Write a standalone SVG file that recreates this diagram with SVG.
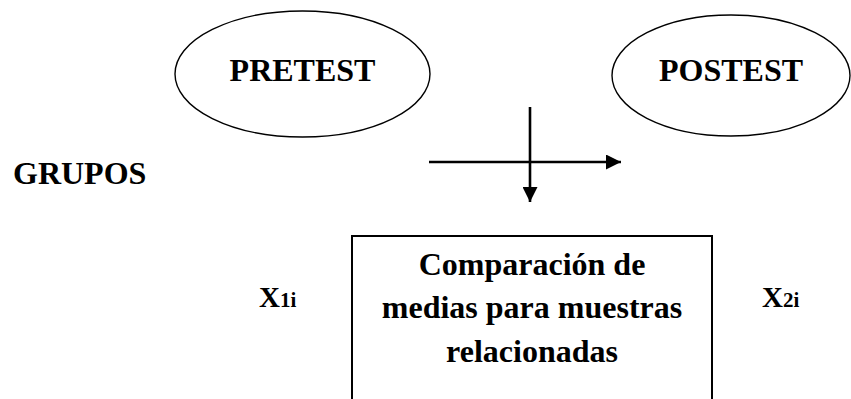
<svg xmlns="http://www.w3.org/2000/svg" width="851" height="399" viewBox="0 0 851 399">
<style>
text{font-family:"Liberation Serif","Times New Roman",serif;font-weight:bold;fill:#000}
.big{font-size:32px}
.ell{fill:#fff;stroke:#000;stroke-width:1.4}
.box{fill:#fff;stroke:#000;stroke-width:2}
.conn{stroke:#000;stroke-width:2.6;fill:none}
</style>
<defs>
<marker id="ah" markerWidth="16" markerHeight="15" refX="15" refY="7.5" orient="auto" markerUnits="userSpaceOnUse">
<path d="M0,0 L15,7.5 L0,15 Z" fill="#000"/>
</marker>
</defs>
<rect width="851" height="399" fill="#fff"/>
<g id="pretest">
<ellipse class="ell" cx="302.5" cy="74" rx="127.5" ry="63"/>
<text class="big" x="302.5" y="81" text-anchor="middle">PRETEST</text>
</g>
<g id="postest">
<ellipse class="ell" cx="731" cy="75.5" rx="119" ry="60.5"/>
<text class="big" x="731" y="81" text-anchor="middle">POSTEST</text>
</g>
<g id="grupos">
<text class="big" x="13" y="184">GRUPOS</text>
</g>
<g id="comparacion">
<rect class="box" x="352" y="236" width="360" height="180"/>
<text class="big" x="532" y="275" text-anchor="middle">Comparación de</text>
<text class="big" x="532" y="318" text-anchor="middle">medias para muestras</text>
<text class="big" x="532" y="362" text-anchor="middle">relacionadas</text>
</g>
<g id="x1i">
<text x="259" y="307" font-size="29">X<tspan font-size="21">1i</tspan></text>
</g>
<g id="x2i">
<text x="762" y="307" font-size="29">X<tspan font-size="21">2i</tspan></text>
</g>
<g id="connectors">
<line class="conn" x1="429" y1="162" x2="621" y2="162" marker-end="url(#ah)"/>
<line class="conn" x1="530" y1="107" x2="530" y2="202" marker-end="url(#ah)"/>
</g>
</svg>
